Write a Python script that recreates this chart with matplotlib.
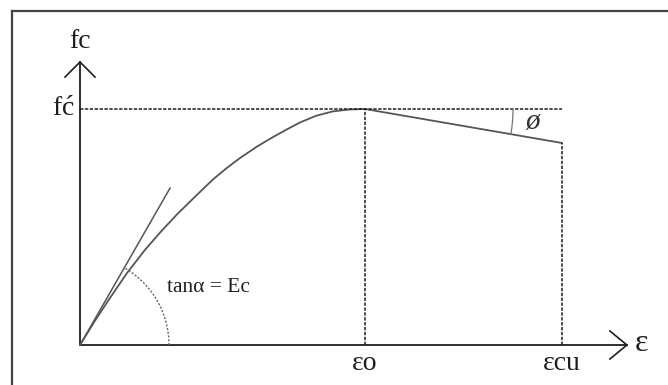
import numpy as np
import matplotlib.pyplot as plt
from matplotlib.lines import Line2D

plt.rcParams['mathtext.fontset'] = 'custom'
plt.rcParams['mathtext.rm'] = 'Liberation Serif'

# stress-strain curve, strain normalised by eps_o, stress by f'c
eps = [0.0, 0.05, 0.10, 0.165, 0.228, 0.285, 0.34, 0.40, 0.467, 0.515,
       0.561, 0.62, 0.677, 0.725, 0.772, 0.83, 0.888, 0.945, 1.0]
fc = [0.0, 0.098, 0.19, 0.305, 0.403, 0.482, 0.553, 0.624, 0.702, 0.750,
      0.792, 0.840, 0.881, 0.913, 0.943, 0.972, 0.990, 0.998, 1.0]
eps_o, fc_peak = 1.0, 1.0
eps_cu, fc_cu = 1.691, 0.856
tangent_end = (0.316, 0.665)
x_axis_end, y_axis_end = 1.919, 1.199

# pixels per unit on each axis
sx, sy = 285.0, 236.0
W, H = 668, 385
ox, oy = 80, 345

fig = plt.figure(figsize=(W / 100, H / 100), dpi=100)
ax = fig.add_axes([0, 0, 1, 1])
ax.set_xlim(-ox / sx, (W - ox) / sx)
ax.set_ylim(-(H - oy) / sy, oy / sy)
ax.axis('off')

serif = ['Liberation Serif', 'DejaVu Serif']
ink = '#1e1e1e'
grey = '#555555'

# outer frame (left and top edges only visible)
fig.add_artist(Line2D([12.5 / W, 12.5 / W], [0, 1 - 10.5 / H], color='#444444', lw=1.6))
fig.add_artist(Line2D([12.5 / W, 1], [1 - 10.5 / H, 1 - 10.5 / H], color='#444444', lw=1.6))

# axes with open arrow heads
ax.plot([0, x_axis_end], [0, 0], color=ink, lw=1.3)
ax.plot([0, 0], [0, y_axis_end], color=ink, lw=1.3)
ax.plot([x_axis_end - 17 / sx, x_axis_end, x_axis_end - 17 / sx],
        [14 / sy, 0, -14 / sy], color=ink, lw=1.2)
ax.plot([-15 / sx, 0, 15 / sx],
        [y_axis_end - 15 / sy, y_axis_end, y_axis_end - 15 / sy], color=ink, lw=1.2)

# curve and descending branch
ax.plot(eps, fc, color=grey, lw=1.3, solid_joinstyle='round')
ax.plot([eps_o, eps_cu], [fc_peak, fc_cu], color=grey, lw=1.3)
ax.plot([0, tangent_end[0]], [0, tangent_end[1]], color=grey, lw=1.1)

# dotted guides
dots = dict(color=ink, lw=1.1, dashes=(2.2, 1.0))
ax.plot([0, eps_cu], [fc_peak, fc_peak], **dots)
ax.plot([eps_o, eps_o], [0, fc_peak], **dots)
ax.plot([eps_cu, eps_cu], [0, fc_cu], **dots)

# angle alpha arc at origin
ang = np.arctan2(tangent_end[1] * sy, tangent_end[0] * sx)
t = np.linspace(0, ang, 40)
r = 89
ax.plot(r * np.cos(t) / sx, r * np.sin(t) / sy, color='#666666', lw=1.0, dashes=(1.5, 1.2))

# angle phi arc at peak
phi = np.arctan2((fc_peak - fc_cu) * sy, (eps_cu - eps_o) * sx)
t = np.linspace(0, phi, 20)
r = 148
ax.plot(eps_o + r * np.cos(t) / sx, fc_peak - r * np.sin(t) / sy, color='#777777', lw=0.9)

# labels
lab = dict(family=serif, color=ink)
ax.text(0, 1.285, 'fc', fontsize=20, ha='center', va='center', **lab)
ax.text(-0.018, 1.0, r"$\mathrm{f\acute{c}}$", fontsize=20, ha='right', va='center', **lab)
ax.text(eps_o, -0.08, '\u03b5o', fontsize=20, ha='center', va='center', **lab)
ax.text(eps_cu, -0.08, '\u03b5cu', fontsize=20, ha='center', va='center', **lab)
ax.text(1.947, 0.005, '\u03b5', fontsize=23, ha='left', va='center', **lab)
ax.text(0.305, 0.242, 'tan\u03b1 = Ec', fontsize=15.5, ha='left', va='center', **lab)
ax.text(1.589, 0.947, '\u00f8', family=serif, style='italic', fontsize=21,
        ha='center', va='center', color='#333333')

fig.savefig('out.png', dpi=100, facecolor='white')
